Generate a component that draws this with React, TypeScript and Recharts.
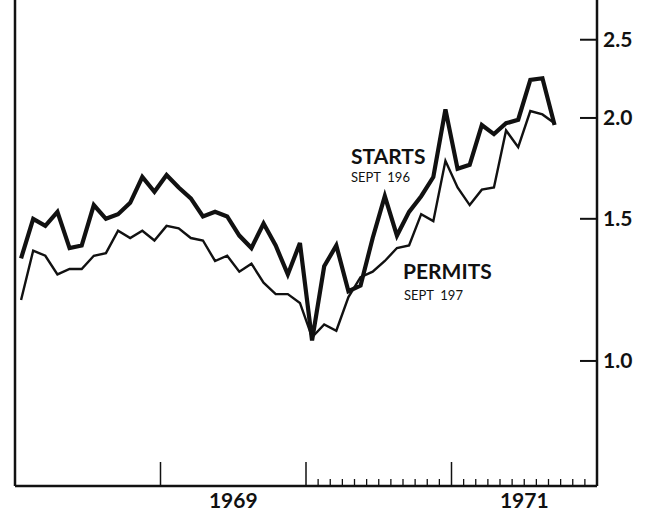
import { LineChart, Line, XAxis, YAxis, ReferenceLine } from "recharts";

// housing starts and permits, millions of units (annual rate), monthly Jan 1968 - Sep 1971
const years = ["1968", "1969", "1970", "1971"];
const monthNames = ["Jan", "Feb", "Mar", "Apr", "May", "Jun", "Jul", "Aug", "Sep", "Oct", "Nov", "Dec"];
const labelledYears = ["1969", "1971"];

const starts = [
  1.34, 1.5, 1.47, 1.53, 1.38, 1.39, 1.56, 1.5, 1.52, 1.57, 1.69, 1.62,
  1.7, 1.64, 1.59, 1.51, 1.53, 1.51, 1.43, 1.38, 1.48, 1.39, 1.28, 1.4,
  1.06, 1.31, 1.39, 1.22, 1.24, 1.42, 1.6, 1.43, 1.53, 1.6, 1.69, 2.05,
  1.73, 1.75, 1.96, 1.91, 1.97, 1.99, 2.23, 2.24, 1.96
];
const permits = [
  1.19, 1.37, 1.35, 1.28, 1.3, 1.3, 1.35, 1.36, 1.45, 1.42, 1.45, 1.41,
  1.47, 1.46, 1.42, 1.41, 1.33, 1.35, 1.29, 1.32, 1.25, 1.21, 1.21, 1.18,
  1.07, 1.11, 1.09, 1.2, 1.27, 1.29, 1.33, 1.38, 1.39, 1.52, 1.49, 1.77,
  1.64, 1.56, 1.63, 1.64, 1.93, 1.84, 2.04, 2.02, 1.97
];
const valueTicks = [1.0, 1.5, 2.0, 2.5];

const months = years.flatMap((y) => monthNames.map((m) => `${m} ${y}`));
const data = starts.map((s, i) => ({ month: months[i], t: i + 0.5, starts: s, permits: permits[i] }));
const monthBounds = months.map((_, i) => i).concat([months.length]);

const ink = "#111";
const font = "Lato, 'DejaVu Sans', sans-serif";

function MonthTick(props: any) {
  const { x, y, payload } = props;
  const v = payload.value as number;
  const yearIdx = Math.floor(v / 12);
  const inMonth = v % 12;
  const parts: any[] = [];
  if (inMonth === 0 && v > 0 && v < months.length) {
    parts.push(<line key="l" x1={x} x2={x} y1={y} y2={y - 24} stroke={ink} strokeWidth={1.5} />);
  } else if (v > 24 && v < months.length) {
    parts.push(<line key="l" x1={x} x2={x} y1={y} y2={y - 7} stroke={ink} strokeWidth={1.3} />);
  }
  if (inMonth === 6 && labelledYears.includes(years[yearIdx])) {
    parts.push(
      <text key="t" x={x} y={y + 22} textAnchor="middle" fontFamily={font} fontSize={21} fontWeight={700} fill={ink}>
        {years[yearIdx]}
      </text>
    );
  }
  return <g>{parts}</g>;
}

function ValueTick(props: any) {
  const { x, y, payload } = props;
  return (
    <g>
      <line x1={x - 17} x2={x} y1={y} y2={y} stroke={ink} strokeWidth={2} />
      <text x={x + 6} y={y + 7.5} fontFamily={font} fontSize={21} fontWeight={700} fill={ink}>
        {payload.value.toFixed(1)}
      </text>
    </g>
  );
}

export default function App() {
  return (
    <div style={{ position: "absolute", left: 0, top: 0, width: 650, height: 511, background: "#fff" }}>
      <LineChart width={650} height={511} data={data} margin={{ top: 0, right: 0, bottom: 0, left: 15 }}>
        <XAxis
          dataKey="t"
          type="number"
          domain={[0, months.length]}
          ticks={monthBounds}
          interval={0}
          height={25}
          tickSize={0}
          tickMargin={0}
          tickLine={false}
          tick={<MonthTick />}
          axisLine={{ stroke: ink, strokeWidth: 2.5 }}
        />
        <YAxis
          orientation="right"
          scale="log"
          domain={[0.7, 2.8]}
          allowDataOverflow
          ticks={valueTicks}
          interval={0}
          width={53}
          tickSize={0}
          tickMargin={0}
          tickLine={false}
          tick={<ValueTick />}
          axisLine={{ stroke: ink, strokeWidth: 2.5 }}
        />
        <ReferenceLine x={0} stroke={ink} strokeWidth={2.5} />
        <Line dataKey="starts" type="linear" stroke={ink} strokeWidth={4.2} dot={false} isAnimationActive={false} />
        <Line dataKey="permits" type="linear" stroke={ink} strokeWidth={2.4} dot={false} isAnimationActive={false} />
      </LineChart>
      <svg width={650} height={511} style={{ position: "absolute", left: 0, top: 0, pointerEvents: "none" }}>
        <text x={351} y={163.5} fontFamily={font} fontSize={21} fontWeight={700} fill={ink}>STARTS</text>
        <text x={351} y={181.5} fontFamily={font} fontSize={13} fill={ink} xmlSpace="preserve">SEPT  196</text>
        <text x={403} y={278.5} fontFamily={font} fontSize={21} fontWeight={700} fill={ink}>PERMITS</text>
        <text x={404} y={300} fontFamily={font} fontSize={13} fill={ink} xmlSpace="preserve">SEPT  197</text>
      </svg>
    </div>
  );
}
